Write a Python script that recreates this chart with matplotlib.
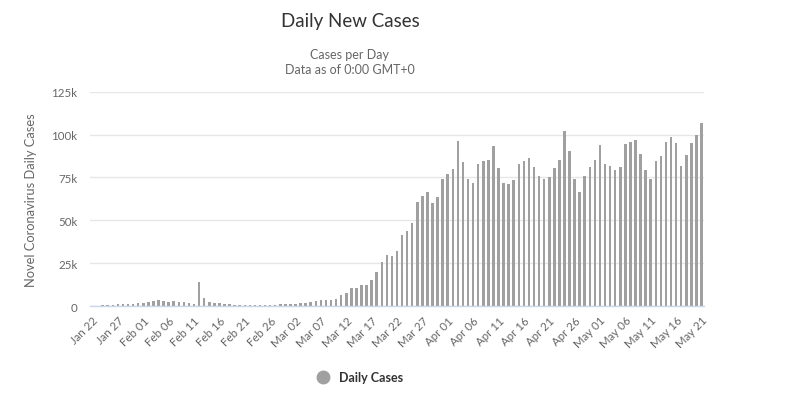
import datetime as dt
import matplotlib
matplotlib.use("Agg")
import matplotlib.pyplot as plt
from matplotlib.lines import Line2D

plt.rcParams['font.family'] = ['Lato', 'DejaVu Sans']

start = dt.date(2020, 1, 22)
n_days = 121
dates = [start + dt.timedelta(days=i) for i in range(n_days)]
categories = [d.strftime("%b %d") for d in dates]

# daily new cases (thousands)
daily_k = [
    0, 0.1, 0.3, 0.4, 0.4,
    1.4, 1.4, 1.4, 1.4, 2.0, 2.0, 2.5, 3.1, 3.7, 3.1, 2.5, 3.1, 2.5, 2.5, 2.0, 1.4,
    13.8, 4.5, 2.3, 1.55, 1.55, 1.2, 1.2, 0.3, 0.6, 0.6, 0.6, 0.3, 0.6, 0.3,
    0.6, 0.8, 1.0, 1.2, 1.2, 1.2, 1.55, 1.55, 2.3, 2.9, 3.5,
    3.3, 3.3, 3.9, 6.3, 7.8, 10.6, 10.6, 12.5, 12.5, 15.3, 20.0, 25.9, 30.0, 29.0,
    32.0, 41.4, 43.5, 48.4, 60.8,
    64.2, 66.5, 60.0, 63.6, 73.8, 77.1, 80.0, 96.1, 83.8, 73.8, 71.8, 83.0, 84.3,
    85.3, 93.5, 80.6, 72.0, 71.2, 73.6,
    83.0, 84.7, 86.5, 81.2, 76.1, 73.8, 75.3, 80.6, 85.3, 102.0, 90.2, 73.8, 66.5,
    75.9, 81.2, 85.3, 94.1, 83.0, 81.8, 79.5,
    80.8, 94.7, 95.9, 97.1, 88.8, 79.5, 73.8, 84.7, 87.7, 95.9, 98.6, 95.3, 81.8,
    88.3, 94.9, 100.0, 106.7,
]
daily_cases = [v * 1000 for v in daily_k]

y_ticks = [0, 25000, 50000, 75000, 100000, 125000]
y_tick_labels = ["0", "25k", "50k", "75k", "100k", "125k"]

title = "Daily New Cases"
subtitle_lines = ["Cases per Day", "Data as of 0:00 GMT+0"]
y_label = "Novel Coronavirus Daily Cases"
legend_label = "Daily Cases"

W, H = 800, 406
fig = plt.figure(figsize=(W / 100, H / 100), dpi=100)
ax = fig.add_axes([90 / W, 1 - 307 / H, (704 - 90) / W, (307 - 92.7) / H])

bar_color = "#a0a0a0"
ax.bar(range(n_days), daily_cases, width=0.5, color=bar_color, zorder=3)

ax.set_xlim(-0.5, n_days - 0.5)
ax.set_ylim(0, 125000)
ax.set_yticks(y_ticks)
ax.set_yticklabels(y_tick_labels)
ax.yaxis.grid(True, color="#e6e6e6", linewidth=1, zorder=0)
ax.tick_params(axis="y", length=0, pad=9, labelsize=8.3, labelcolor="#666666")

xt = list(range(0, n_days, 5))
ax.set_xticks(xt)
ax.set_xticklabels([categories[i] for i in xt], rotation=45, ha="right",
                   va="top", rotation_mode="anchor")
ax.tick_params(axis="x", length=0, pad=6, labelsize=8.3, labelcolor="#666666")

for s in ["top", "right", "left"]:
    ax.spines[s].set_visible(False)
ax.spines["bottom"].set_color("#ccd6eb")
ax.spines["bottom"].set_linewidth(1)
ax.spines["bottom"].set_zorder(4)

ax.set_ylabel(y_label, fontsize=9.3, color="#666666")
ax.yaxis.set_label_coords((37 - 90) / 614, 0.5)

fig.text(350 / W, 1 - 22 / H, title, ha="center", va="center",
         fontsize=13.5, color="#333333")
fig.text(350 / W, 1 - 55 / H, subtitle_lines[0], ha="center", va="center",
         fontsize=9, color="#666666")
fig.text(350 / W, 1 - 70 / H, subtitle_lines[1], ha="center", va="center",
         fontsize=9, color="#666666")

handle = Line2D([], [], marker="o", linestyle="none", markersize=9,
                markerfacecolor=bar_color, markeredgecolor=bar_color)
leg = fig.legend([handle], [legend_label], loc="center",
                 bbox_to_anchor=(357 / W, 1 - 378 / H), frameon=False,
                 handletextpad=0.3, prop={"weight": "bold", "size": 9})
for t in leg.get_texts():
    t.set_color("#333333")

fig.savefig("out.png", dpi=100, facecolor="white")
